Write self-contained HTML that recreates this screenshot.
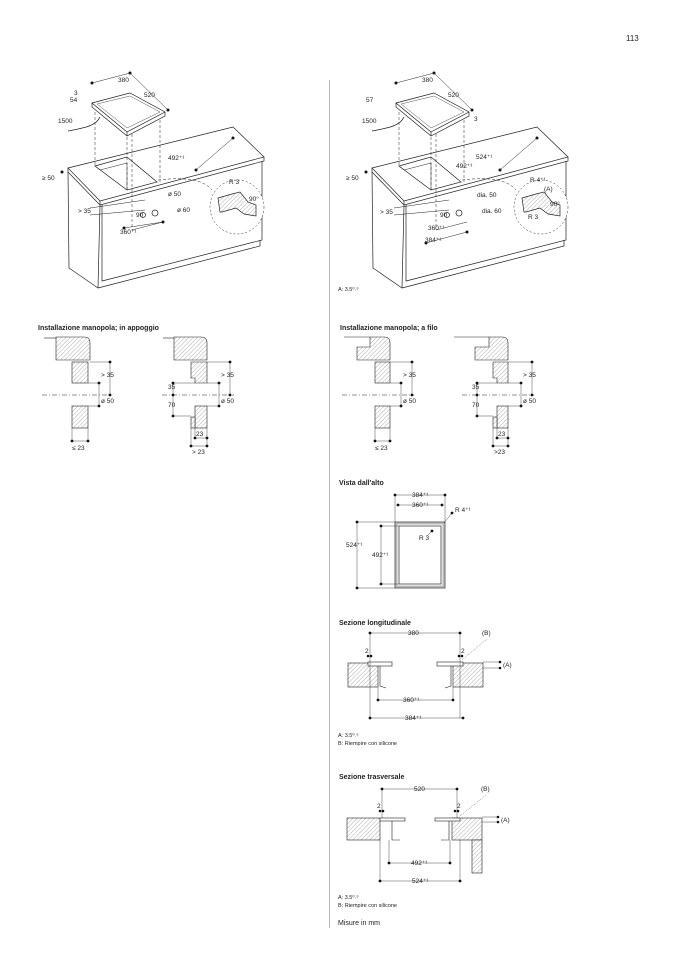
<!DOCTYPE html>
<html><head><meta charset="utf-8"><style>
html,body{margin:0;padding:0;background:#fff}
svg{display:block}
text{font-family:"Liberation Sans",sans-serif;font-size:6.5px;fill:#222}
.b{font-weight:bold;font-size:7px}
</style></head><body>
<svg width="678" height="959" viewBox="0 0 678 959" xmlns="http://www.w3.org/2000/svg">
<defs>
<pattern id="h" width="3" height="3" patternUnits="userSpaceOnUse" patternTransform="rotate(45)">
<rect width="3" height="3" fill="#fff"/><line x1="0" y1="0" x2="0" y2="3" stroke="#777" stroke-width="0.6"/></pattern>
<g id="iso" fill="none" stroke="#222" stroke-width="0.7">
 <polygon points="68,168 233,127 264,157 100,201" fill="#fff"/>
 <polyline points="68,168 68,172 100,205 264,161 264,157"/>
 <line x1="100" y1="201" x2="100" y2="205"/>
 <polyline points="68,172 69,268 98,288 100,205"/>
 <polyline points="102,205 102,281 262,240 262,161"/>
 <polyline points="98,288 260,246 260,240"/>
 <polygon points="95,166 127,157 157,182 127,190"/>
 <polyline points="95,166 100,170 127,163 127,190" stroke-width="0.5"/>
 <polygon points="92,103 130,93 165,112 127,132" fill="#fff"/>
 <polyline points="92,103 92,107 127,136 165,116 165,112"/>
 <line x1="127" y1="132" x2="127" y2="136"/>
 <polygon points="97,104 130,96 160,112 127,128" stroke-width="0.4"/>
 <path d="M100,117 C96,126 84,128 68,131" stroke-width="0.8"/>
 <g stroke-dasharray="3,2" stroke-width="0.5">
  <line x1="95" y1="112" x2="95" y2="166"/><line x1="127" y1="137" x2="127" y2="190"/>
  <line x1="132" y1="134" x2="132" y2="230"/><line x1="160" y1="120" x2="160" y2="182"/>
  <path d="M158,180 Q200,175 212,190"/>
 </g>
 <circle cx="237" cy="207" r="27" stroke-dasharray="2,2" stroke-width="0.5" fill="#fff"/>
 <polygon points="218,198 232,194 240,192 248,202 256,205 256,216 244,214 236,208 222,212 220,212" fill="url(#h)"/>
 <circle cx="155" cy="213" r="3"/><circle cx="143" cy="215" r="2.5"/>
 <g stroke-width="0.5"><line x1="132" y1="230" x2="163" y2="222"/><line x1="90" y1="208" x2="145" y2="200"/><line x1="90" y1="215" x2="145" y2="210"/></g>
</g>
<g id="dots" fill="#111"></g>
</defs>

<text x="626" y="41" style="font-size:8px">113</text>
<line x1="329.5" y1="80" x2="329.5" y2="928" stroke="#999" stroke-width="0.7"/>

<!-- isometrics -->
<use href="#iso"/>
<use href="#iso" transform="translate(304,0)"/>
<g fill="#111">
<circle cx="92" cy="83" r="1.5"/><circle cx="130" cy="73" r="1.5"/><circle cx="168" cy="110" r="1.5"/><circle cx="233" cy="138" r="1.5"/><circle cx="196" cy="170" r="1.5"/>
<circle cx="396" cy="83" r="1.5"/><circle cx="434" cy="73" r="1.5"/><circle cx="472" cy="110" r="1.5"/><circle cx="537" cy="138" r="1.5"/><circle cx="500" cy="170" r="1.5"/>
<circle cx="62" cy="172" r="1.5"/><circle cx="366" cy="172" r="1.5"/><circle cx="124" cy="228" r="1.5"/><circle cx="163" cy="222" r="1.5"/><circle cx="426" cy="243" r="1.5"/><circle cx="467" cy="232" r="1.5"/>
</g>
<g stroke="#222" stroke-width="0.5">
<line x1="92" y1="83" x2="130" y2="73"/><line x1="130" y1="73" x2="168" y2="110"/><line x1="233" y1="138" x2="196" y2="170"/>
<line x1="396" y1="83" x2="434" y2="73"/><line x1="434" y1="73" x2="472" y2="110"/><line x1="537" y1="138" x2="500" y2="170"/>
<line x1="124" y1="228" x2="163" y2="222"/><line x1="426" y1="243" x2="467" y2="232"/>
</g>
<text x="118" y="82">380</text><text x="144" y="97">520</text><text x="74" y="95">3</text><text x="70" y="102">54</text><text x="58" y="123">1500</text>
<text x="168" y="160">492⁺¹</text><text x="42" y="180">≥ 50</text><text x="229" y="184">R 3</text><text x="249" y="201">90°</text>
<text x="168" y="196">ø 50</text><text x="78" y="213">&gt; 35</text><text x="136" y="217">90</text><text x="177" y="212">ø 60</text><text x="120" y="234">360⁺¹</text>

<text x="422" y="82">380</text><text x="448" y="97">520</text><text x="366" y="102">57</text><text x="362" y="123">1500</text><text x="474" y="121">3</text>
<text x="476" y="159">524⁺¹</text><text x="456" y="168">492⁺¹</text><text x="346" y="180">≥ 50</text><text x="530" y="182">R 4⁺¹</text><text x="544" y="191">(A)</text>
<text x="550" y="206">90°</text><text x="528" y="219">R 3</text><text x="477" y="197">dia. 50</text><text x="380" y="214">&gt; 35</text><text x="440" y="217">90</text><text x="482" y="213">dia. 60</text>
<text x="428" y="230">360⁺¹</text><text x="425" y="242">384⁺¹</text>
<text x="338" y="291" style="font-size:5.5px">A: 3.5⁰˒⁵</text>

<!-- manopola sections -->
<text x="38" y="330" class="b">Installazione manopola; in appoggio</text>
<text x="340" y="330" class="b">Installazione manopola; a filo</text>
<g id="secL" stroke="#222" stroke-width="0.6">
 <line x1="44" y1="338" x2="56" y2="338"/>
 <path d="M56,337 H84 Q90,337 90,343 V360 H56 Z" fill="url(#h)"/>
 <rect x="72" y="362" width="16" height="21" fill="url(#h)"/>
 <rect x="72" y="406" width="16" height="22" fill="url(#h)"/>
 <line x1="42" y1="395" x2="112" y2="395" stroke-dasharray="5,2,1,2" stroke-width="0.5"/>
 <g stroke-width="0.4"><line x1="90" y1="362" x2="110" y2="362"/><line x1="88" y1="383" x2="99" y2="383"/><line x1="88" y1="406" x2="99" y2="406"/>
 <line x1="110" y1="362" x2="110" y2="395"/><line x1="99" y1="383" x2="99" y2="406"/><line x1="72" y1="428" x2="72" y2="441"/><line x1="88" y1="428" x2="88" y2="441"/><line x1="72" y1="441" x2="88" y2="441"/></g>
 <g fill="#111" stroke="none"><circle cx="110" cy="362" r="1.4"/><circle cx="110" cy="395" r="1.4"/><circle cx="99" cy="383" r="1.4"/><circle cx="99" cy="406" r="1.4"/><circle cx="72" cy="441" r="1.4"/><circle cx="88" cy="441" r="1.4"/></g>
</g>
<text x="101" y="377">&gt; 35</text><text x="101" y="403">ø 50</text><text x="72" y="450">≤ 23</text>
<g id="secL2" stroke="#222" stroke-width="0.6">
 <line x1="163" y1="338" x2="174" y2="338"/>
 <path d="M174,337 H201 Q207,337 207,343 V360 H174 Z" fill="url(#h)"/>
 <path d="M191,362 H207 V383 H195 V378 H191 Z" fill="url(#h)"/>
 <rect x="195" y="406" width="12" height="22" fill="url(#h)"/>
 <rect x="191" y="417" width="4" height="11" fill="url(#h)"/>
 <line x1="162" y1="395" x2="234" y2="395" stroke-dasharray="5,2,1,2" stroke-width="0.5"/>
 <g stroke-width="0.4"><line x1="207" y1="362" x2="230" y2="362"/><line x1="207" y1="383" x2="219" y2="383"/><line x1="207" y1="406" x2="219" y2="406"/>
 <line x1="230" y1="362" x2="230" y2="395"/><line x1="219" y1="383" x2="219" y2="406"/>
 <line x1="173" y1="383" x2="195" y2="383"/><line x1="173" y1="416" x2="191" y2="416"/><line x1="173" y1="383" x2="173" y2="416"/>
 <line x1="195" y1="428" x2="195" y2="438"/><line x1="207" y1="428" x2="207" y2="446"/><line x1="191" y1="428" x2="191" y2="446"/><line x1="195" y1="438" x2="207" y2="438"/><line x1="191" y1="446" x2="207" y2="446"/></g>
 <g fill="#111" stroke="none"><circle cx="230" cy="362" r="1.4"/><circle cx="230" cy="395" r="1.4"/><circle cx="219" cy="383" r="1.4"/><circle cx="219" cy="406" r="1.4"/>
 <circle cx="173" cy="383" r="1.4"/><circle cx="173" cy="395" r="1.4"/><circle cx="173" cy="416" r="1.4"/><circle cx="195" cy="438" r="1.4"/><circle cx="207" cy="438" r="1.4"/><circle cx="191" cy="446" r="1.4"/><circle cx="207" cy="446" r="1.4"/></g>
</g>
<text x="221" y="377">&gt; 35</text><text x="221" y="403">ø 50</text><text x="168" y="389">35</text><text x="168" y="407">70</text><text x="196" y="436">23</text><text x="192" y="454">&gt; 23</text>

<g transform="translate(302,0)">
<g stroke="#222" stroke-width="0.6">
 <line x1="42" y1="337" x2="68" y2="337"/>
 <path d="M68,337 H82 Q88,337 88,343 V360 H55 V347 H68 Z" fill="url(#h)"/>
 <rect x="73" y="362" width="15" height="21" fill="url(#h)"/>
 <rect x="73" y="406" width="15" height="22" fill="url(#h)"/>
 <line x1="40" y1="395" x2="112" y2="395" stroke-dasharray="5,2,1,2" stroke-width="0.5"/>
 <g stroke-width="0.4"><line x1="88" y1="362" x2="110" y2="362"/><line x1="88" y1="383" x2="99" y2="383"/><line x1="88" y1="406" x2="99" y2="406"/>
 <line x1="110" y1="362" x2="110" y2="395"/><line x1="99" y1="383" x2="99" y2="406"/><line x1="73" y1="428" x2="73" y2="441"/><line x1="88" y1="428" x2="88" y2="441"/><line x1="73" y1="441" x2="88" y2="441"/></g>
 <g fill="#111" stroke="none"><circle cx="110" cy="362" r="1.4"/><circle cx="110" cy="395" r="1.4"/><circle cx="99" cy="383" r="1.4"/><circle cx="99" cy="406" r="1.4"/><circle cx="73" cy="441" r="1.4"/><circle cx="88" cy="441" r="1.4"/></g>
</g>
<text x="101" y="377">&gt; 35</text><text x="101" y="403">ø 50</text><text x="73" y="450">≤ 23</text>
<g stroke="#222" stroke-width="0.6">
 <line x1="152" y1="337" x2="187" y2="337"/>
 <path d="M187,337 H200 Q206,337 206,343 V360 H173 V347 H187 Z" fill="url(#h)"/>
 <path d="M191,362 H206 V383 H195 V378 H191 Z" fill="url(#h)"/>
 <rect x="195" y="406" width="11" height="22" fill="url(#h)"/>
 <rect x="191" y="417" width="4" height="11" fill="url(#h)"/>
 <line x1="160" y1="395" x2="232" y2="395" stroke-dasharray="5,2,1,2" stroke-width="0.5"/>
 <g stroke-width="0.4"><line x1="206" y1="362" x2="230" y2="362"/><line x1="206" y1="383" x2="219" y2="383"/><line x1="206" y1="406" x2="219" y2="406"/>
 <line x1="230" y1="362" x2="230" y2="395"/><line x1="219" y1="383" x2="219" y2="406"/>
 <line x1="175" y1="383" x2="195" y2="383"/><line x1="175" y1="416" x2="191" y2="416"/><line x1="175" y1="383" x2="175" y2="416"/>
 <line x1="195" y1="428" x2="195" y2="438"/><line x1="206" y1="428" x2="206" y2="446"/><line x1="191" y1="428" x2="191" y2="446"/><line x1="195" y1="438" x2="206" y2="438"/><line x1="191" y1="446" x2="206" y2="446"/></g>
 <g fill="#111" stroke="none"><circle cx="230" cy="362" r="1.4"/><circle cx="230" cy="395" r="1.4"/><circle cx="219" cy="383" r="1.4"/><circle cx="219" cy="406" r="1.4"/>
 <circle cx="175" cy="383" r="1.4"/><circle cx="175" cy="395" r="1.4"/><circle cx="175" cy="416" r="1.4"/><circle cx="195" cy="438" r="1.4"/><circle cx="206" cy="438" r="1.4"/><circle cx="191" cy="446" r="1.4"/><circle cx="206" cy="446" r="1.4"/></g>
</g>
<text x="221" y="377">&gt; 35</text><text x="221" y="403">ø 50</text><text x="170" y="389">35</text><text x="170" y="407">70</text><text x="196" y="436">23</text><text x="192" y="454">&gt;23</text>
</g>

<!-- Vista dall'alto -->
<text x="339" y="485" class="b">Vista dall'alto</text>
<rect x="395" y="522" width="50" height="66" fill="none" stroke="#444" stroke-width="0.8"/>
<rect x="396.5" y="523.5" width="47" height="63" fill="none" stroke="#bbb" stroke-width="2"/>
<rect x="399" y="526" width="42" height="58" fill="none" stroke="#444" stroke-width="0.8"/>
<g stroke="#222" stroke-width="0.4">
<line x1="395" y1="495" x2="445" y2="495"/><line x1="398" y1="505" x2="442" y2="505"/>
<line x1="395" y1="495" x2="395" y2="522"/><line x1="445" y1="495" x2="445" y2="522"/>
<line x1="357" y1="522" x2="395" y2="522"/><line x1="357" y1="588" x2="395" y2="588"/><line x1="357" y1="522" x2="357" y2="588"/>
<line x1="381" y1="526" x2="399" y2="526"/><line x1="381" y1="584" x2="399" y2="584"/><line x1="381" y1="526" x2="381" y2="584"/>
<line x1="444" y1="523" x2="452" y2="513"/><line x1="432" y1="531" x2="427" y2="536"/>
</g>
<g fill="#111"><circle cx="395" cy="495" r="1.4"/><circle cx="445" cy="495" r="1.4"/><circle cx="398" cy="505" r="1.4"/><circle cx="442" cy="505" r="1.4"/>
<circle cx="357" cy="522" r="1.4"/><circle cx="357" cy="588" r="1.4"/><circle cx="381" cy="526" r="1.4"/><circle cx="381" cy="584" r="1.4"/><circle cx="452" cy="513" r="1.4"/><circle cx="432" cy="531" r="1.4"/></g>
<text x="412" y="497">384⁺¹</text><text x="412" y="507">360⁺¹</text><text x="455" y="512">R 4⁺¹</text><text x="419" y="540">R 3</text>
<text x="346" y="547">524⁺¹</text><text x="372" y="557">492⁺¹</text>

<!-- Sezione longitudinale -->
<text x="339" y="625" class="b">Sezione longitudinale</text>
<g stroke="#222" stroke-width="0.6">
<rect x="348" y="663" width="30" height="24" fill="url(#h)"/><rect x="453" y="663" width="30" height="24" fill="url(#h)"/>
<rect x="368" y="662" width="24" height="4" fill="#fff"/><rect x="437" y="662" width="26" height="4" fill="#fff"/>
<polyline points="380,666 380,686 386,688" fill="none"/><polyline points="451,666 451,686 445,688" fill="none"/>
<g stroke-width="0.4">
<line x1="370" y1="633" x2="460" y2="633"/><line x1="370" y1="633" x2="370" y2="718"/><line x1="460" y1="633" x2="460" y2="718"/>
<line x1="370" y1="718" x2="463" y2="718"/><line x1="378" y1="687" x2="378" y2="700"/><line x1="453" y1="687" x2="453" y2="700"/><line x1="378" y1="700" x2="453" y2="700"/>
<line x1="483" y1="662" x2="500" y2="662"/><line x1="483" y1="668" x2="500" y2="668"/>
<line x1="462" y1="660" x2="488" y2="638" stroke-dasharray="1,1"/></g>
</g>
<g fill="#111"><circle cx="370" cy="633" r="1.4"/><circle cx="460" cy="633" r="1.4"/><circle cx="370" cy="718" r="1.4"/><circle cx="463" cy="718" r="1.4"/><circle cx="378" cy="700" r="1.4"/><circle cx="453" cy="700" r="1.4"/>
<circle cx="368" cy="656" r="1.3"/><circle cx="371" cy="656" r="1.3"/><circle cx="459" cy="656" r="1.3"/><circle cx="462" cy="656" r="1.3"/><circle cx="500" cy="662" r="1.3"/><circle cx="500" cy="668" r="1.3"/></g>
<text x="408" y="635">380</text><text x="365" y="653">2</text><text x="461" y="653">2</text><text x="482" y="635">(B)</text><text x="503" y="667">(A)</text>
<text x="403" y="702">360⁺¹</text><text x="405" y="720">384⁺¹</text>
<text x="338" y="737" style="font-size:5.5px">A: 3.5⁰˒⁵</text><text x="338" y="745" style="font-size:5.5px">B: Riempire con silicone</text>

<!-- Sezione trasversale -->
<text x="339" y="779" class="b">Sezione trasversale</text>
<g stroke="#222" stroke-width="0.6">
<rect x="347" y="818" width="33" height="22" fill="url(#h)"/><rect x="452" y="818" width="30" height="22" fill="url(#h)"/><rect x="472" y="840" width="10" height="33" fill="url(#h)"/>
<rect x="380" y="818" width="25" height="3" fill="#fff"/><rect x="435" y="818" width="25" height="3" fill="#fff"/>
<polyline points="392,821 392,840 400,840" fill="none"/><polyline points="449,821 449,840 441,840" fill="none"/>
<g stroke-width="0.4">
<line x1="382" y1="789" x2="457" y2="789"/><line x1="382" y1="789" x2="382" y2="818"/><line x1="457" y1="789" x2="457" y2="818"/>
<line x1="389" y1="840" x2="389" y2="863"/><line x1="450" y1="840" x2="450" y2="863"/><line x1="389" y1="863" x2="450" y2="863"/>
<line x1="380" y1="840" x2="380" y2="881"/><line x1="460" y1="840" x2="460" y2="881"/><line x1="380" y1="881" x2="460" y2="881"/>
<line x1="482" y1="817" x2="498" y2="817"/><line x1="482" y1="822" x2="498" y2="822"/>
<line x1="460" y1="816" x2="486" y2="795" stroke-dasharray="1,1"/></g>
</g>
<g fill="#111"><circle cx="382" cy="789" r="1.4"/><circle cx="457" cy="789" r="1.4"/><circle cx="389" cy="863" r="1.4"/><circle cx="450" cy="863" r="1.4"/><circle cx="380" cy="881" r="1.4"/><circle cx="460" cy="881" r="1.4"/>
<circle cx="380" cy="811" r="1.3"/><circle cx="383" cy="811" r="1.3"/><circle cx="455" cy="811" r="1.3"/><circle cx="458" cy="811" r="1.3"/><circle cx="498" cy="817" r="1.3"/><circle cx="498" cy="822" r="1.3"/></g>
<text x="414" y="791">520</text><text x="377" y="808">2</text><text x="457" y="808">2</text><text x="481" y="791">(B)</text><text x="501" y="822">(A)</text>
<text x="411" y="865">492⁺¹</text><text x="412" y="883">524⁺¹</text>
<text x="338" y="899" style="font-size:5.5px">A: 3.5⁰˒⁵</text><text x="338" y="907" style="font-size:5.5px">B: Riempire con silicone</text>
<text x="338" y="925" style="font-size:7px">Misure in mm</text>
</svg>
</body></html>
